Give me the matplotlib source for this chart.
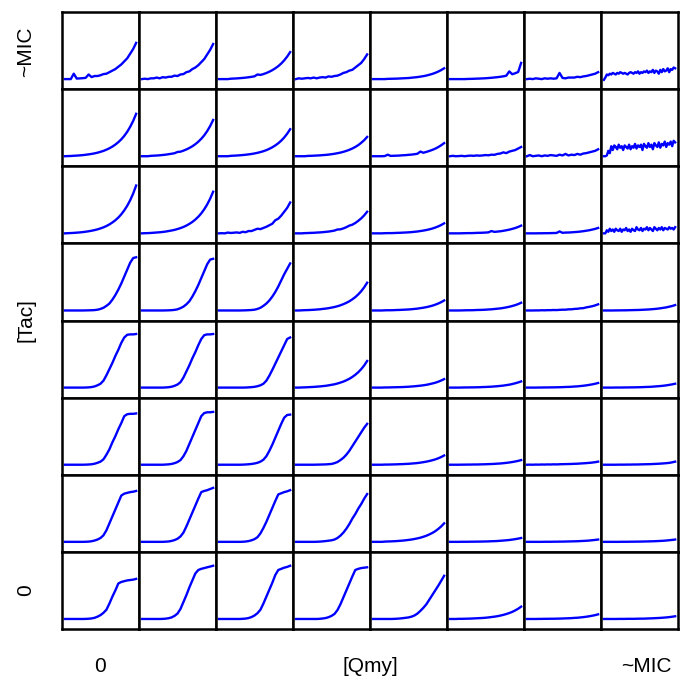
import numpy as np
import matplotlib.pyplot as plt

# OD readings per well, 0-24 h; rows go from Tac ~MIC (top) down to Tac 0,
# columns go from Qmy 0 (left) to Qmy ~MIC (right)
tac_row1 = [
    [.13,.13,.13,.20,.137,.139,.142,.146,.19,.156,.17,.17,.18,.195,.20,.22,.24,.26,.29,.32,.36,.40,.46,.52,.60],
    [.13,.135,.13,.14,.14,.15,.14,.155,.15,.16,.16,.175,.17,.19,.195,.22,.23,.26,.28,.31,.35,.39,.45,.51,.585],
    [.13,.13,.13,.13,.135,.137,.139,.142,.145,.149,.154,.159,.166,.19,.184,.195,.209,.226,.246,.27,.298,.332,.373,.422,.48],
    [.13,.14,.135,.14,.145,.14,.15,.14,.15,.155,.15,.165,.16,.17,.175,.19,.21,.22,.24,.25,.28,.31,.34,.39,.45],
    [.13,.13,.13,.13,.13,.133,.134,.135,.136,.138,.14,.142,.144,.148,.152,.156,.162,.168,.176,.186,.197,.211,.227,.247,.27],
    [.13,.13,.13,.13,.13,.13,.132,.133,.134,.136,.137,.139,.141,.144,.147,.151,.155,.16,.166,.174,.23,.193,.206,.222,.34],
    [.13,.135,.13,.14,.135,.13,.14,.135,.14,.135,.14,.21,.145,.14,.15,.15,.15,.16,.155,.165,.17,.18,.19,.20,.22],
    [.12,.15,.19,.18,.20,.19,.21,.20,.19,.21,.20,.22,.21,.20,.21,.20,.19,.21,.22,.21,.20,.22,.21,.23,.20,
     .22,.21,.23,.22,.24,.21,.23,.22,.25,.21,.24,.23,.20,.25,.22,.26,.23,.24,.27,.22,.26,.25,.28,.27],
]
tac_row2 = [
    [.13,.132,.133,.136,.138,.141,.144,.149,.154,.16,.167,.176,.187,.199,.215,.233,.255,.281,.312,.349,.394,.447,.512,.588,.68],
    [.13,.13,.13,.135,.137,.139,.142,.146,.15,.156,.162,.169,.185,.189,.202,.218,.237,.259,.286,.318,.356,.401,.456,.522,.60],
    [.13,.13,.13,.13,.135,.137,.139,.142,.145,.149,.154,.159,.166,.174,.184,.195,.209,.226,.246,.27,.298,.332,.373,.422,.48],
    [.13,.13,.13,.13,.134,.135,.137,.139,.141,.144,.147,.151,.156,.162,.169,.177,.187,.199,.213,.23,.25,.274,.304,.338,.38],
    [.13,.13,.13,.13,.132,.15,.134,.136,.137,.139,.142,.144,.148,.151,.156,.162,.19,.175,.186,.198,.212,.228,.248,.272,.30],
    [.13,.135,.13,.132,.135,.13,.135,.138,.135,.14,.137,.14,.145,.142,.15,.148,.16,.165,.18,.17,.19,.20,.21,.23,.25],
    [.13,.145,.13,.135,.14,.13,.14,.135,.145,.14,.135,.15,.14,.16,.14,.15,.145,.16,.15,.165,.17,.18,.19,.20,.22],
    [.13,.13,.14,.20,.17,.26,.21,.27,.25,.22,.28,.24,.26,.21,.27,.25,.23,.28,.22,.26,.24,.29,.23,.27,.25,
     .28,.21,.29,.26,.24,.30,.25,.28,.22,.30,.27,.25,.31,.24,.29,.27,.32,.25,.30,.28,.32,.26,.33,.31],
]
tac_row3 = [
    [.13,.132,.134,.136,.139,.142,.146,.151,.157,.164,.172,.182,.194,.208,.225,.246,.271,.30,.335,.377,.428,.488,.56,.646,.75],
    [.13,.132,.133,.135,.138,.141,.144,.148,.153,.16,.167,.175,.186,.198,.213,.231,.253,.278,.309,.345,.389,.442,.505,.58,.67],
    [.13,.132,.13,.14,.135,.138,.142,.136,.15,.145,.16,.16,.175,.19,.185,.20,.215,.235,.255,.30,.32,.36,.41,.46,.53],
    [.13,.13,.13,.133,.134,.136,.137,.14,.142,.145,.149,.153,.159,.166,.18,.182,.194,.21,.23,.242,.264,.292,.324,.363,.41],
    [.13,.13,.13,.13,.132,.133,.133,.134,.136,.137,.139,.141,.143,.146,.15,.154,.16,.166,.173,.182,.192,.205,.22,.238,.26],
    [.13,.13,.13,.13,.131,.132,.133,.133,.134,.136,.137,.138,.14,.143,.16,.149,.153,.157,.163,.17,.178,.188,.199,.213,.23],
    [.13,.13,.13,.13,.131,.131,.132,.132,.133,.134,.135,.155,.137,.14,.141,.143,.146,.149,.153,.158,.164,.17,.179,.188,.20],
    [.13,.13,.17,.15,.19,.16,.18,.15,.19,.17,.16,.19,.15,.18,.17,.20,.16,.18,.15,.19,.17,.16,.21,.18,.17,
     .20,.16,.19,.18,.21,.17,.20,.18,.16,.21,.19,.17,.20,.18,.21,.17,.20,.19,.18,.21,.19,.20,.18,.21],
]
tac_row4 = [
    [.13,.13,.13,.13,.13,.13,.13,.131,.132,.133,.135,.14,.15,.165,.19,.22,.27,.33,.40,.48,.57,.66,.75,.81,.82],
    [.13,.13,.13,.13,.13,.13,.13,.13,.131,.132,.134,.138,.145,.16,.18,.21,.25,.31,.38,.46,.55,.64,.73,.79,.80],
    [.13,.13,.13,.13,.13,.13,.13,.13,.131,.132,.134,.136,.14,.15,.165,.19,.22,.26,.31,.37,.44,.52,.60,.67,.74],
    [.13,.13,.132,.134,.135,.137,.139,.142,.145,.15,.154,.16,.167,.175,.185,.197,.212,.229,.249,.274,.303,.338,.38,.43,.49],
    [.13,.13,.13,.13,.132,.133,.133,.134,.136,.137,.139,.141,.143,.146,.15,.154,.16,.166,.173,.182,.192,.205,.22,.238,.26],
    [.13,.13,.13,.13,.131,.132,.133,.133,.134,.136,.137,.138,.14,.143,.145,.149,.153,.157,.163,.17,.178,.188,.199,.213,.23],
    [.13,.13,.13,.131,.131,.133,.132,.134,.134,.136,.135,.138,.14,.14,.145,.145,.15,.152,.158,.16,.17,.177,.185,.196,.21],
    [.13,.13,.13,.13,.131,.131,.132,.132,.133,.134,.135,.136,.137,.139,.141,.143,.146,.149,.153,.158,.164,.17,.179,.188,.20],
]
tac_row5 = [
    [.13,.13,.13,.13,.13,.13,.13,.131,.133,.137,.145,.16,.18,.22,.29,.37,.45,.54,.62,.71,.78,.815,.82,.82,.825],
    [.13,.13,.13,.13,.13,.13,.13,.13,.132,.135,.141,.153,.17,.20,.26,.34,.42,.51,.59,.68,.76,.81,.82,.82,.825],
    [.13,.13,.13,.13,.13,.13,.13,.13,.13,.131,.133,.136,.14,.148,.16,.18,.22,.285,.36,.44,.52,.60,.68,.76,.78],
    [.13,.13,.132,.133,.135,.137,.139,.142,.145,.149,.153,.159,.166,.173,.183,.195,.208,.225,.244,.268,.296,.329,.369,.417,.475],
    [.13,.13,.13,.13,.132,.132,.133,.134,.135,.136,.137,.139,.141,.144,.147,.151,.155,.16,.166,.174,.183,.193,.206,.222,.24],
    [.13,.13,.13,.13,.131,.132,.132,.133,.133,.134,.135,.137,.138,.14,.142,.145,.148,.152,.156,.162,.168,.176,.186,.197,.21],
    [.13,.13,.13,.13,.131,.131,.132,.132,.133,.133,.134,.135,.136,.138,.139,.141,.144,.146,.15,.154,.159,.165,.172,.18,.19],
    [.13,.13,.13,.13,.131,.131,.131,.132,.132,.133,.133,.134,.135,.136,.138,.139,.141,.144,.147,.15,.154,.159,.165,.172,.18],
]
tac_row6 = [
    [.13,.13,.13,.13,.13,.13,.13,.131,.133,.136,.143,.155,.17,.20,.26,.33,.42,.50,.59,.67,.76,.785,.79,.79,.795],
    [.13,.13,.13,.13,.13,.13,.13,.13,.132,.135,.14,.15,.165,.19,.24,.31,.40,.49,.58,.67,.76,.80,.81,.81,.815],
    [.13,.13,.13,.13,.13,.13,.13,.13,.131,.133,.136,.14,.146,.155,.17,.195,.24,.31,.39,.48,.57,.66,.74,.775,.78],
    [.13,.13,.13,.13,.13,.13,.13,.131,.132,.133,.134,.137,.14,.15,.165,.19,.22,.26,.31,.37,.43,.49,.55,.61,.66],
    [.13,.13,.13,.13,.132,.132,.133,.134,.135,.137,.138,.14,.142,.145,.148,.152,.157,.163,.17,.178,.188,.199,.213,.23,.25],
    [.13,.13,.13,.13,.131,.131,.132,.132,.133,.133,.134,.135,.136,.138,.139,.141,.144,.146,.15,.154,.159,.165,.172,.18,.19],
    [.13,.131,.13,.132,.131,.133,.132,.134,.133,.135,.134,.136,.137,.138,.139,.14,.142,.143,.146,.148,.151,.154,.158,.163,.17],
    [.13,.13,.13,.13,.13,.131,.131,.131,.132,.132,.133,.133,.134,.135,.136,.137,.138,.14,.142,.144,.147,.15,.154,.161,.17],
]
tac_row7 = [
    [.13,.13,.13,.13,.13,.13,.13,.131,.133,.138,.147,.16,.18,.215,.28,.37,.46,.55,.64,.73,.755,.765,.775,.78,.79],
    [.13,.13,.13,.13,.13,.13,.13,.13,.132,.135,.142,.153,.17,.20,.25,.33,.42,.51,.60,.69,.775,.79,.80,.815,.83],
    [.13,.13,.13,.13,.13,.13,.13,.13,.131,.134,.14,.15,.165,.19,.24,.31,.39,.48,.57,.66,.745,.76,.775,.785,.80],
    [.13,.13,.13,.13,.13,.13,.13,.131,.133,.136,.14,.145,.15,.16,.18,.21,.25,.30,.36,.43,.49,.56,.62,.69,.75],
    [.13,.13,.13,.13,.133,.135,.136,.138,.14,.143,.146,.15,.155,.16,.167,.175,.184,.196,.209,.226,.245,.268,.297,.33,.37],
    [.13,.13,.13,.13,.131,.131,.131,.132,.132,.133,.133,.134,.135,.136,.138,.139,.141,.144,.147,.15,.154,.159,.165,.172,.18],
    [.13,.13,.13,.13,.13,.13,.131,.131,.131,.132,.132,.133,.133,.134,.135,.136,.137,.138,.14,.142,.144,.147,.151,.155,.16],
    [.13,.13,.13,.13,.13,.13,.131,.131,.131,.132,.132,.133,.133,.134,.135,.136,.137,.138,.14,.142,.144,.147,.151,.155,.16],
]
tac_row8 = [
    [.13,.13,.13,.13,.13,.13,.13,.131,.133,.137,.145,.16,.18,.21,.25,.33,.42,.50,.59,.61,.62,.63,.635,.64,.65],
    [.13,.13,.13,.13,.13,.13,.13,.131,.134,.14,.15,.17,.20,.26,.35,.44,.54,.63,.72,.765,.78,.79,.80,.81,.82],
    [.13,.13,.13,.13,.13,.13,.13,.13,.132,.135,.142,.155,.175,.205,.25,.33,.42,.51,.60,.70,.765,.78,.795,.805,.82],
    [.13,.13,.13,.13,.13,.13,.13,.13,.132,.136,.142,.153,.17,.195,.245,.32,.41,.50,.59,.68,.765,.78,.79,.795,.80],
    [.13,.13,.13,.13,.13,.13,.13,.131,.133,.136,.14,.145,.15,.16,.175,.20,.235,.275,.32,.38,.44,.50,.56,.625,.69],
    [.13,.13,.13,.132,.132,.133,.134,.135,.137,.139,.141,.143,.146,.15,.155,.16,.166,.174,.183,.194,.207,.222,.241,.263,.29],
    [.13,.13,.13,.13,.131,.131,.132,.132,.133,.133,.134,.135,.136,.138,.139,.141,.144,.146,.15,.154,.159,.165,.172,.18,.19],
    [.13,.13,.13,.13,.13,.131,.131,.131,.132,.132,.132,.133,.134,.134,.135,.137,.138,.14,.142,.144,.147,.15,.154,.159,.165],
]
rows = [tac_row1, tac_row2, tac_row3, tac_row4, tac_row5, tac_row6, tac_row7, tac_row8]
t_end = 24

fig, axes = plt.subplots(8, 8, figsize=(6.92, 6.90), dpi=100)
plt.subplots_adjust(left=62/692, right=678/692, bottom=1-629/690, top=1-12/690,
                    wspace=0, hspace=0)
for i, row in enumerate(rows):
    for j, od in enumerate(row):
        ax = axes[i, j]
        t = np.linspace(0, t_end, len(od))
        ax.plot(t, od, color='#0000ff', lw=1.7, solid_joinstyle='round')
        ax.set_xlim(-0.04*t_end, 1.04*t_end)
        ax.set_ylim(0, 1)
        ax.set_xticks([])
        ax.set_yticks([])
        for s in ax.spines.values():
            s.set_linewidth(1.8)

fnt = dict(fontsize=15, family='Liberation Sans', ha='center', va='center')
fig.text(100/692, 1-667/690, '0', **fnt)
fig.text(370/692, 1-667/690, '[Qmy]', **fnt)
fig.text(646/692, 1-667/690, '~MIC', **fnt)
fig.text(26/692, 1-52/690, '~MIC', rotation=90, **fnt)
fig.text(26/692, 1-320/690, '[Tac]', rotation=90, **fnt)
fig.text(26/692, 1-590/690, '0', rotation=90, **fnt)

plt.savefig('out.png', dpi=100)
